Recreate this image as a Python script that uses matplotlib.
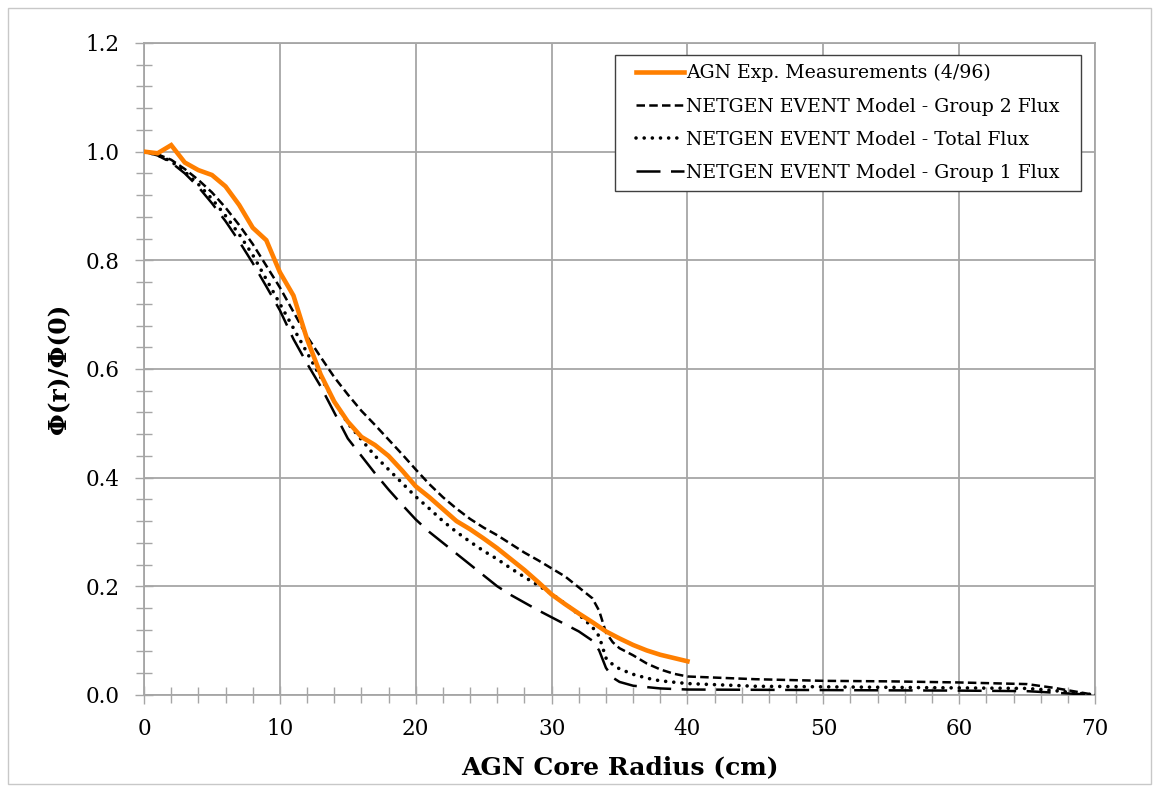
import matplotlib
matplotlib.use("Agg")
import matplotlib.pyplot as plt
from matplotlib.patches import Rectangle
from matplotlib.path import Path
from matplotlib.ticker import MultipleLocator, FormatStrFormatter

# ---- data ----
r_meas = [0, 1, 2, 3, 4, 5, 6, 7, 8, 9, 10, 11, 12, 13, 14, 15, 16, 17, 18, 19, 20,
          21, 22, 23, 24, 25, 26, 27, 28, 29, 30, 31, 32, 33, 34, 35, 36, 37, 38, 39, 40]
phi_meas = [1.0, 0.997, 1.012, 0.98, 0.966, 0.957, 0.936, 0.902, 0.86, 0.837, 0.778,
            0.735, 0.655, 0.59, 0.54, 0.503, 0.475, 0.46, 0.44, 0.413, 0.384,
            0.364, 0.342, 0.32, 0.305, 0.288, 0.27, 0.25, 0.23, 0.208, 0.185,
            0.167, 0.15, 0.134, 0.117, 0.104, 0.092, 0.082, 0.074, 0.068, 0.062]

r_g2 = [0, 1, 2, 3, 4, 5, 6, 7, 8, 9, 10, 11, 12, 13, 14, 15, 16, 17, 18, 19, 20,
        21, 22, 23, 24, 25, 26, 27, 28, 29, 30, 31, 32, 33, 33.5, 34, 34.5, 35, 36,
        37, 38, 39, 40, 45, 50, 55, 60, 65, 67, 70]
phi_g2 = [1.0, 0.995, 0.985, 0.968, 0.948, 0.925, 0.897, 0.865, 0.83, 0.79, 0.75,
          0.705, 0.66, 0.622, 0.585, 0.553, 0.523, 0.497, 0.47, 0.443, 0.415,
          0.388, 0.364, 0.343, 0.324, 0.308, 0.294, 0.278, 0.262, 0.248, 0.233,
          0.218, 0.198, 0.178, 0.155, 0.115, 0.097, 0.086, 0.073, 0.058, 0.047,
          0.039, 0.034, 0.029, 0.026, 0.025, 0.023, 0.020, 0.013, 0.0]

r_tot = [0, 1, 2, 3, 4, 5, 6, 7, 8, 9, 10, 11, 12, 13, 14, 15, 16, 17, 18, 19, 20,
         21, 22, 23, 24, 25, 26, 27, 28, 29, 30, 31, 32, 33, 33.5, 34, 34.5, 35, 36,
         37, 38, 40, 45, 50, 60, 65, 67, 70]
phi_tot = [1.0, 0.994, 0.982, 0.963, 0.94, 0.913, 0.882, 0.848, 0.81, 0.765, 0.72,
           0.675, 0.63, 0.585, 0.54, 0.50, 0.47, 0.44, 0.415, 0.39, 0.365,
           0.343, 0.32, 0.30, 0.282, 0.265, 0.25, 0.233, 0.217, 0.202, 0.186,
           0.168, 0.148, 0.125, 0.108, 0.068, 0.056, 0.048, 0.038, 0.031, 0.026,
           0.021, 0.016, 0.015, 0.013, 0.012, 0.008, 0.0]

r_g1 = [0, 1, 2, 3, 4, 5, 6, 7, 8, 9, 10, 11, 12, 13, 14, 15, 16, 17, 18, 19, 20,
        21, 22, 23, 24, 25, 26, 27, 28, 29, 30, 31, 32, 33, 33.5, 34, 34.5, 35, 36,
        38, 40, 50, 60, 65, 70]
phi_g1 = [1.0, 0.993, 0.98, 0.96, 0.935, 0.905, 0.872, 0.835, 0.795, 0.752, 0.708,
          0.655, 0.61, 0.568, 0.52, 0.472, 0.44, 0.408, 0.378, 0.35, 0.323,
          0.300, 0.280, 0.260, 0.240, 0.220, 0.200, 0.184, 0.170, 0.156, 0.143,
          0.130, 0.117, 0.100, 0.082, 0.05, 0.032, 0.024, 0.017, 0.012, 0.010,
          0.009, 0.008, 0.007, 0.0]

labels = ["AGN Exp. Measurements (4/96)",
          "NETGEN EVENT Model - Group 2 Flux",
          "NETGEN EVENT Model - Total Flux",
          "NETGEN EVENT Model - Group 1 Flux"]

plt.rcParams['font.family'] = ['DejaVu Serif']

fig = plt.figure(figsize=(11.54, 7.90), dpi=100)
ax = fig.add_axes([0.1248, 0.1203, 0.8241, 0.8253])

fig.patches.append(Rectangle((0.007, 0.007), 0.990, 0.983, transform=fig.transFigure,
                             fill=False, edgecolor='#c8c8c8', linewidth=1.0))

ax.plot(r_meas, phi_meas, color='#ff7f00', linewidth=3.3, label=labels[0],
        solid_joinstyle='miter', zorder=4)
ax.plot(r_g2, phi_g2, color='black', linewidth=1.8, linestyle=(0, (3.4, 1.7)),
        label=labels[1], zorder=3)
ax.plot(r_tot, phi_tot, color='black', linewidth=2.6, linestyle=(0, (0.01, 2.25)),
        dash_capstyle='round', label=labels[2], zorder=3)
ax.plot(r_g1, phi_g1, color='black', linewidth=1.8, linestyle=(0, (9.6, 4.2)),
        label=labels[3], zorder=3)

ax.set_xlim(0, 70)
ax.set_ylim(0, 1.2)
ax.xaxis.set_major_locator(MultipleLocator(10))
ax.xaxis.set_minor_locator(MultipleLocator(2))
ax.yaxis.set_major_locator(MultipleLocator(0.2))
ax.yaxis.set_minor_locator(MultipleLocator(0.04))
ax.yaxis.set_major_formatter(FormatStrFormatter('%.1f'))

gc = '#a6a6a6'
ax.grid(True, which='major', color=gc, linewidth=1.3)
ax.set_axisbelow(True)
for s in ax.spines.values():
    s.set_color(gc)
    s.set_linewidth(1.3)
ax.tick_params(which='both', direction='inout', color=gc, width=1.0)
ax.tick_params(which='major', length=13, labelsize=15.5)
ax.tick_params(axis='x', which='major', pad=10)
ax.tick_params(axis='y', which='major', pad=11)
ax.tick_params(which='minor', length=11)

ax.set_xlabel('AGN Core Radius (cm)', fontsize=18, fontweight='bold', labelpad=11)
ax.set_ylabel('Φ(r)/Φ(0)', fontsize=18, fontweight='bold', labelpad=10)


def wide_box(x0, y0, width, height, mutation_size):
    ex = 12.0  # extra horizontal padding in pixels
    return Path.unit_rectangle().transformed(
        matplotlib.transforms.Affine2D().scale(width + 2 * ex, height).translate(x0 - ex, y0))


leg = ax.legend(loc='upper right', bbox_to_anchor=(0.973, 0.982), fontsize=13.6,
                frameon=True, fancybox=False, edgecolor='#404040', framealpha=1,
                handlelength=2.5, handletextpad=0.15, borderpad=0.5, labelspacing=0.8,
                borderaxespad=0)
leg.get_frame().set_linewidth(1.0)
leg.get_frame().set_boxstyle(wide_box)

fig.savefig('out.png', dpi=100)
